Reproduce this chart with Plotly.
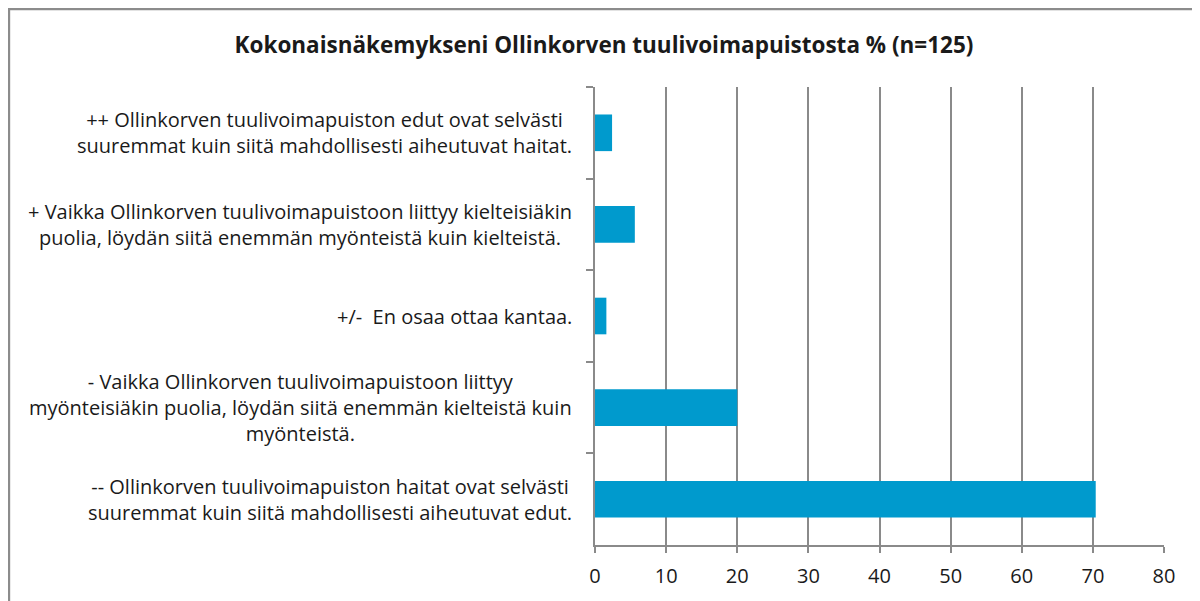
import plotly.graph_objects as go

categories = ["++", "+", "+/-", "-", "--"]
labels = [
    "++ Ollinkorven tuulivoimapuiston edut ovat selvästi<br>suuremmat kuin siitä mahdollisesti aiheutuvat haitat.",
    "+ Vaikka Ollinkorven tuulivoimapuistoon liittyy kielteisiäkin<br>puolia, löydän siitä enemmän myönteistä kuin kielteistä.",
    "+/-\u00a0 En osaa ottaa kantaa.",
    "- Vaikka Ollinkorven tuulivoimapuistoon liittyy<br>myönteisiäkin puolia, löydän siitä enemmän kielteistä kuin<br>myönteistä.",
    "-- Ollinkorven tuulivoimapuiston haitat ovat selvästi<br>suuremmat kuin siitä mahdollisesti aiheutuvat edut.",
]
values = [2.4, 5.6, 1.6, 20.0, 70.4]
x_ticks = [0, 10, 20, 30, 40, 50, 60, 70, 80]

FONT = "Open Sans"
GRID = "#8a8a8a"
W, H = 1192, 593  # page body has an 8px margin

fig = go.Figure()
fig.add_trace(go.Bar(
    x=values, y=categories, orientation="h",
    marker=dict(color="#009ACD", line=dict(width=0)),
    hoverinfo="x+y",
))

for cat, lab in zip(categories, labels):
    fig.add_annotation(
        x=0, xref="paper", xshift=-21, xanchor="right",
        y=cat, yref="y", yanchor="middle",
        text=lab, showarrow=False, align="center",
        font=dict(family=FONT, size=20, color="#1a1a1a"),
    )

# outer frame
fig.add_shape(type="rect", xref="paper", yref="paper",
              x0=-1.03, x1=1.0562, y0=-0.14, y1=1.1703,
              line=dict(color="#8c8c8c", width=2.5), fillcolor="rgba(0,0,0,0)", layer="below")

fig.update_layout(
    width=W, height=H,
    margin=dict(l=587, r=36, t=79, b=56),
    paper_bgcolor="white", plot_bgcolor="white",
    bargap=0.6,
    showlegend=False,
    title=dict(
        text="<b>Kokonaisnäkemykseni Ollinkorven tuulivoimapuistosta % (n=125)</b>",
        x=0.5, xanchor="center", xref="container",
        y=1 - 37 / H, yanchor="middle", yref="container",
        font=dict(family=FONT, size=22.5, color="#1a1a1a"),
    ),
    xaxis=dict(
        range=[0, 80], tickvals=x_ticks, ticktext=[str(v) for v in x_ticks],
        showgrid=True, gridcolor=GRID, gridwidth=2,
        showline=True, linecolor=GRID, linewidth=2,
        ticks="outside", ticklen=6, tickcolor=GRID, tickwidth=2,
        ticklabelstandoff=6,
        tickfont=dict(family=FONT, size=20, color="#1a1a1a"),
        zeroline=False, fixedrange=True,
    ),
    yaxis=dict(
        autorange="reversed", showticklabels=False,
        showline=True, linecolor=GRID, linewidth=2,
        ticks="outside", ticklen=7, tickcolor=GRID, tickwidth=2,
        tickson="boundaries", showgrid=False, fixedrange=True,
    ),
)

fig.write_html("out.html")
